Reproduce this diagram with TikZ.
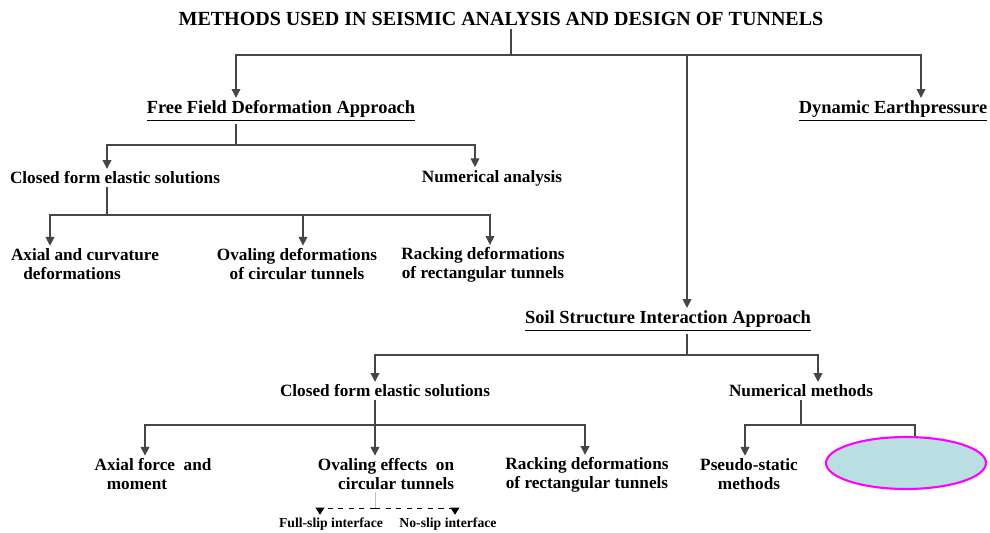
\documentclass[tikz,border=0pt]{standalone}
\usepackage{fontspec}
\setmainfont{Liberation Serif}
\usetikzlibrary{arrows.meta,positioning,calc,shapes.geometric}
\definecolor{linkgray}{RGB}{70,70,70}
\definecolor{ovalfill}{RGB}{185,223,226}
\definecolor{ovalrim}{RGB}{255,0,255}

\begin{document}
\begin{tikzpicture}[x=0.02cm,y=-0.02cm,>={Triangle[width=5pt,length=5pt]},
    every node/.style={font=\bfseries\fontsize{9.8}{10.5}\selectfont,inner sep=1.5pt,align=center},
    head/.style={font=\bfseries\fontsize{10.5}{12}\selectfont},
    tiny/.style={font=\bfseries\fontsize{7.8}{9}\selectfont},
    link/.style={draw=linkgray,line width=0.6pt},
    slip/.style={dashed,-{Triangle[width=5pt,length=4pt]}}]
    \useasboundingbox (0,0) rectangle (990,533);
    % levels 0 and 1
    \node[font=\bfseries\fontsize{11.4}{13}\selectfont] (top) at (501,19) {METHODS USED IN SEISMIC ANALYSIS AND DESIGN OF TUNNELS};
    \node[head] (ffd) at (281,111) {\underline{Free Field Deformation Approach}};
    \node[head] (dyn) at (893,111) {\underline{Dynamic Earthpressure}};
    \node[head] (ssi) at (668,321) {\underline{Soil Structure Interaction Approach}};
    % free field branch
    \node (cf1) at (115,178) {Closed form elastic solutions};
    \node (na1) at (492,178) {Numerical analysis};
    \node[align=left] (ax1) at (85,264) {Axial and curvature\\\hspace{7pt}deformations};
    \node (ov1) at (297,264) {Ovaling deformations\\of circular tunnels};
    \node (rk1) at (483,265) {Racking deformations\\of rectangular tunnels};
    % soil structure branch
    \node (cf2) at (385,391) {Closed form elastic solutions};
    \node (nm2) at (801,391) {Numerical methods};
    \node[align=left] (ax2) at (153,474) {Axial force\ \ and\\\hspace{7pt}moment};
    \node[align=right] (ov2) at (386,474) {Ovaling effects\ \ on\\circular tunnels};
    \node (rk2) at (587,475) {Racking deformations\\of rectangular tunnels};
    \node (ps2) at (749,474) {Pseudo-static\\methods};
    \node[ellipse,draw=ovalrim,fill=ovalfill,line width=1.2pt,minimum width=3.2cm,minimum height=1.04cm] (oval) at (906,463) {};
    \node[tiny] (fsl) at (331,524) {Full-slip interface};
    \node[tiny] (nsl) at (448,524) {No-slip interface};
    % connectors
    \coordinate (j0) at (511,55);
    \draw[link] (top.south -| j0) -- (j0);
    \draw[link,->] (j0) -| (ffd.north -| 236,0);
    \draw[link,->] (j0) -| (ssi.north -| 687,0);
    \draw[link,->] (j0) -| (dyn.north -| 921,0);
    \coordinate (j1) at (236,145);
    \draw[link] (ffd.south -| j1) -- (j1);
    \draw[link,->] (j1) -| (cf1.north -| 107,0);
    \draw[link,->] (j1) -| (na1.north -| 475,0);
    \coordinate (j2) at (107,215);
    \draw[link] (cf1.south -| j2) -- (j2);
    \draw[link,->] (j2) -| (ax1.north -| 50,0);
    \draw[link,->] (j2) -| (ov1.north -| 303,0);
    \draw[link,->] (j2) -| (rk1.north -| 490,0);
    \coordinate (j3) at (687,355);
    \draw[link] (ssi.south -| j3) -- (j3);
    \draw[link,->] (j3) -| (cf2.north -| 375,0);
    \draw[link,->] (j3) -| (nm2.north -| 818,0);
    \coordinate (j4) at (375,425);
    \draw[link] (cf2.south -| j4) -- (j4);
    \draw[link,->] (j4) -| (ax2.north -| 145,0);
    \draw[link,->] (j4) -- (ov2.north -| j4);
    \draw[link,->] (j4) -| (rk2.north -| 585,0);
    \coordinate (j5) at (801,425);
    \draw[link] (nm2.south -| j5) -- (j5);
    \draw[link,->] (j5) -| (ps2.north -| 745,0);
    \draw[link] (j5) -| (oval.north -| 915,0);
    \coordinate (j6) at (375,508);
    \draw[gray!50,line width=0.4pt] (ov2.south -| j6) -- (j6);
    \draw[slip] (j6) -| (fsl.north -| 320,0);
    \draw[slip] (j6) -| (nsl.north -| 455,0);
\end{tikzpicture}
\end{document}
